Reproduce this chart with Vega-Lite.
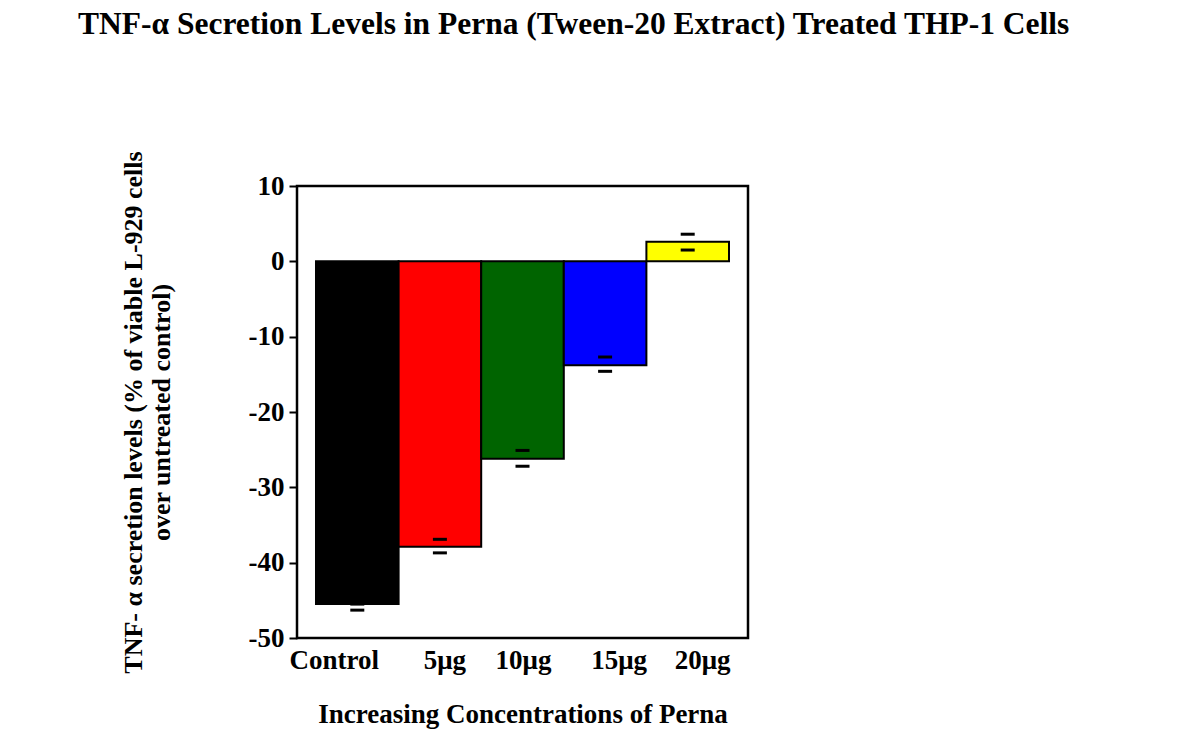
{
  "$schema": "https://vega.github.io/schema/vega-lite/v6.json",
  "width": 451,
  "height": 452,
  "autosize": {"type": "none"},
  "padding": {"left": 297, "top": 186, "right": 452, "bottom": 112},
  "background": "white",
  "config": {
    "view": {"stroke": "black", "strokeWidth": 2.5},
    "font": "Liberation Serif"
  },
  "title": {
    "text": "TNF-α Secretion Levels in Perna (Tween-20 Extract) Treated THP-1 Cells",
    "anchor": "start",
    "frame": "group",
    "dx": -219,
    "offset": 107,
    "fontSize": 31.5,
    "fontWeight": "bold",
    "font": "Liberation Serif",
    "color": "black"
  },
  "data": {
    "values": [
      {"group": "Control", "value": -45.5, "hi": -45.5, "lo": -46.3},
      {"group": "5μg", "value": -37.9, "hi": -36.9, "lo": -38.7},
      {"group": "10μg", "value": -26.2, "hi": -25.1, "lo": -27.2},
      {"group": "15μg", "value": -13.8, "hi": -12.7, "lo": -14.6},
      {"group": "20μg", "value": 2.6, "hi": 3.6, "lo": 1.5}
    ]
  },
  "encoding": {
    "x": {
      "field": "group",
      "type": "nominal",
      "sort": null,
      "scale": {"paddingInner": 0, "paddingOuter": 0.23},
      "axis": {
        "title": "Increasing Concentrations of Perna",
        "titleFontSize": 27,
        "titleFontWeight": "bold",
        "titleColor": "black",
        "titlePadding": 28,
        "labelAngle": 0,
        "labelFontSize": 27,
        "labelFontWeight": "bold",
        "labelColor": "black",
        "labelPadding": 9,
        "labelOffset": {"expr": "datum.value == 'Control' ? -23 : datum.value == '5μg' ? 5 : datum.value == '10μg' ? 1 : datum.value == '15μg' ? 14 : 15"},
        "ticks": false,
        "domain": false
      }
    }
  },
  "layer": [
    {
      "mark": {"type": "bar", "stroke": "black", "strokeWidth": 2},
      "encoding": {
        "y": {
          "field": "value",
          "type": "quantitative",
          "scale": {"domain": [-50, 10], "nice": false, "zero": false},
          "axis": {
            "values": [-50, -40, -30, -20, -10, 0, 10],
            "labelExpr": "'' + datum.value",
            "grid": false,
            "domain": false,
            "tickColor": "black",
            "tickSize": 8,
            "tickWidth": 2,
            "labelFontSize": 27,
            "labelFontWeight": "bold",
            "labelColor": "black",
            "labelPadding": 5,
            "title": ["TNF- α  secretion levels (% of viable L-929 cells", "over untreated control)"],
            "titleFontSize": 26,
            "titleFontWeight": "bold",
            "titleColor": "black",
            "titlePadding": 74
          }
        },
        "color": {
          "field": "group",
          "type": "nominal",
          "sort": null,
          "scale": {
            "domain": ["Control", "5μg", "10μg", "15μg", "20μg"],
            "range": ["#000000", "#ff0000", "#006400", "#0000ff", "#ffff00"]
          },
          "legend": null
        }
      }
    },
    {
      "mark": {"type": "rule", "color": "black", "strokeWidth": 2.5},
      "encoding": {"y": {"datum": 0}}
    },
    {
      "mark": {"type": "tick", "color": "black", "opacity": 1, "thickness": 3, "size": 14},
      "encoding": {"y": {"field": "hi", "type": "quantitative"}}
    },
    {
      "mark": {"type": "tick", "color": "black", "opacity": 1, "thickness": 3, "size": 14},
      "encoding": {"y": {"field": "lo", "type": "quantitative"}}
    }
  ]
}
